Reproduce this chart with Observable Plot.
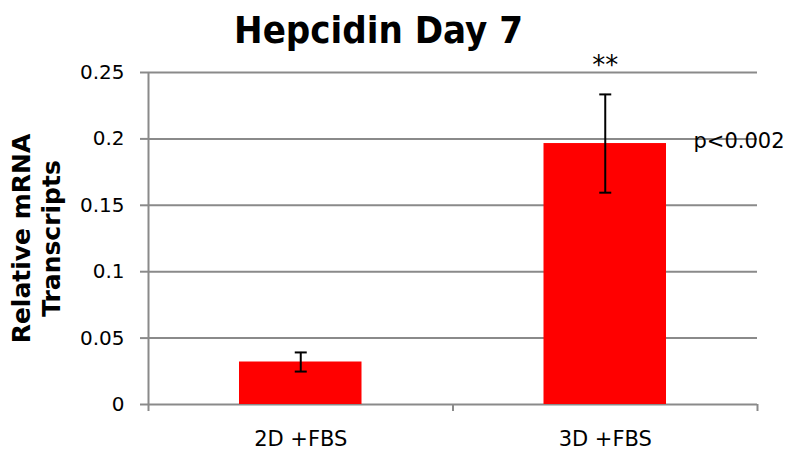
<!DOCTYPE html>
<html>
<head>
<meta charset="utf-8">
<script src="https://cdn.jsdelivr.net/npm/d3@7"></script>
<script src="https://cdn.jsdelivr.net/npm/@observablehq/plot@0.6"></script>
<style>
  html, body { margin: 0; padding: 0; background: #fff; }
</style>
</head>
<body>
<div id="chart"></div>
<script>
const categories = ["2D +FBS", "3D +FBS"];
const values = [0.032, 0.1965];
const errors = [0.0072, 0.037];
const yTicks = [0, 0.05, 0.1, 0.15, 0.2, 0.25];
const title = "Hepcidin Day 7";
const yLabel = "Relative mRNA\nTranscripts";
const annotStars = "**";
const annotP = "p<0.002";

const data = categories.map((c, i) => ({
  cat: c, i, v: values[i], lo: values[i] - errors[i], hi: values[i] + errors[i]
}));

const capSymbol = {
  draw(ctx, size) {
    const r = Math.sqrt(size / Math.PI);
    ctx.moveTo(-r, 0);
    ctx.lineTo(r, 0);
  }
};

const font = "'DejaVu Sans', sans-serif";
const condensed = "'DejaVu Sans Condensed', 'DejaVu Sans', sans-serif";
const gray = "#8a8a8a";

const chart = Plot.plot({
  width: 785,
  height: 451,
  marginLeft: 148,
  marginRight: 28,
  marginTop: 72,
  marginBottom: 47,
  style: { fontFamily: font, background: "#fff", color: "#000", overflow: "visible" },
  x: { domain: [0, categories.length], axis: null },
  y: { domain: [0, 0.25], axis: null },
  marks: [
    Plot.ruleY(yTicks, { stroke: gray, strokeWidth: 2 }),
    Plot.axisY({ ticks: yTicks, tickSize: 8, tickPadding: 16, stroke: gray, strokeWidth: 2, strokeOpacity: 1,
      tickFormat: d => String(+d.toFixed(2)), fontSize: 20, fill: "#000", label: null }),
    Plot.axisX({ ticks: d3.range(categories.length + 1), tickSize: 7, stroke: gray, strokeWidth: 2, strokeOpacity: 1,
      tickFormat: () => "", label: null }),
    Plot.ruleX([0], { y1: 0, y2: 0.25, stroke: gray, strokeWidth: 2 }),
    Plot.rectY(data, { x1: d => d.i, x2: d => d.i + 1, y: "v", fill: "#ff0000", insetLeft: 91, insetRight: 91 }),
    Plot.ruleX(data, { x: d => d.i + 0.5, y1: "lo", y2: "hi", stroke: "#000", strokeWidth: 2 }),
    Plot.dot(data, { x: d => d.i + 0.5, y: "lo", symbol: capSymbol, r: 6, stroke: "#000", strokeWidth: 2 }),
    Plot.dot(data, { x: d => d.i + 0.5, y: "hi", symbol: capSymbol, r: 6, stroke: "#000", strokeWidth: 2 }),
    Plot.text(data, { x: d => d.i + 0.5, y: 0, text: "cat", dy: 35, fontSize: 21, fill: "#000" }),
    Plot.text([annotStars], { x: 1.5, y: 0.25, text: d => d, dy: -7, fontSize: 26, fill: "#000" }),
    Plot.text([annotP], { frameAnchor: "top-right", text: d => d, dx: -64, dy: 61, textAnchor: "start", fontSize: 21, fill: "#000" }),
    Plot.text([title], { frameAnchor: "top-left", text: d => d, dx: 230, dy: -56, textAnchor: "middle", fontSize: 38, fontWeight: "bold", fontFamily: condensed, fill: "#000" }),
    Plot.text([yLabel], { frameAnchor: "left", text: d => d, rotate: -90, dx: -113, textAnchor: "middle", fontSize: 25, fontWeight: "bold", lineHeight: 1.2, fill: "#000" })
  ]
});

document.getElementById("chart").appendChild(chart);
</script>
</body>
</html>
